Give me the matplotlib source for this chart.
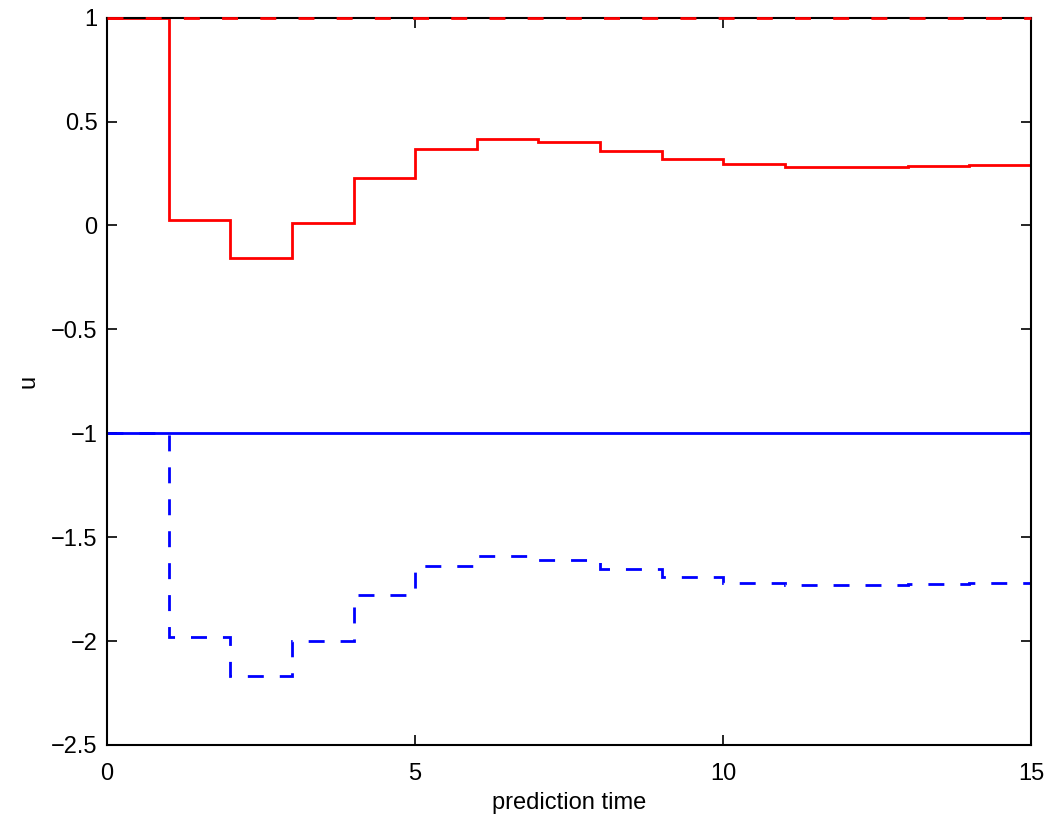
import matplotlib
matplotlib.use("Agg")
import matplotlib.pyplot as plt

# -----------------------------------------------------------
# Data
# -----------------------------------------------------------

time_edges = list(range(0, 16))

u1 = [1.0, 0.025, -0.155, 0.012, 0.228, 0.369, 0.417, 0.40,
      0.36, 0.32, 0.297, 0.281, 0.280, 0.286, 0.292]

u2 = [-1.0, -1.98, -2.166, -2.0, -1.78, -1.64, -1.59, -1.61,
      -1.653, -1.69, -1.72, -1.73, -1.73, -1.724, -1.72]

u1_max = [1.0, 1.0]
u2_min = [-1.0, -1.0]
bound_t = [0, 15]

# -----------------------------------------------------------
# Plot
# -----------------------------------------------------------

plt.rcParams['font.family'] = ['Liberation Sans', 'DejaVu Sans']

fig = plt.figure(figsize=(10.5, 8.19), dpi=100)
ax = fig.add_axes([0.102, 0.0904, 0.880, 0.888])

ax.stairs(u1, time_edges, baseline=None, color='red', linewidth=2)
ax.stairs(u2, time_edges, baseline=None, color='blue', linewidth=2,
          linestyle=(0, (5.75, 5.75)))

ax.plot(bound_t, u1_max, color='red', linewidth=2,
        linestyle=(0, (5.75, 8)), clip_on=False, zorder=5)
ax.plot(bound_t, u2_min, color='blue', linewidth=2)

ax.set_xlim(0, 15)
ax.set_ylim(-2.5, 1)
ax.set_xticks([0, 5, 10, 15])
ax.set_yticks([-2.5, -2, -1.5, -1, -0.5, 0, 0.5, 1])
ax.set_yticklabels(['\u22122.5', '\u22122', '\u22121.5', '\u22121',
                    '\u22120.5', '0', '0.5', '1'])

ax.tick_params(direction='in', top=True, right=True, length=7,
               width=1.2, labelsize=17)
ax.tick_params(axis='x', pad=13)
ax.tick_params(axis='y', pad=7)
for s in ax.spines.values():
    s.set_linewidth(1.5)

ax.set_xlabel("prediction time", fontsize=17, labelpad=5)
ax.set_ylabel("u", fontsize=17, labelpad=8)

fig.savefig("out.png", dpi=100)
